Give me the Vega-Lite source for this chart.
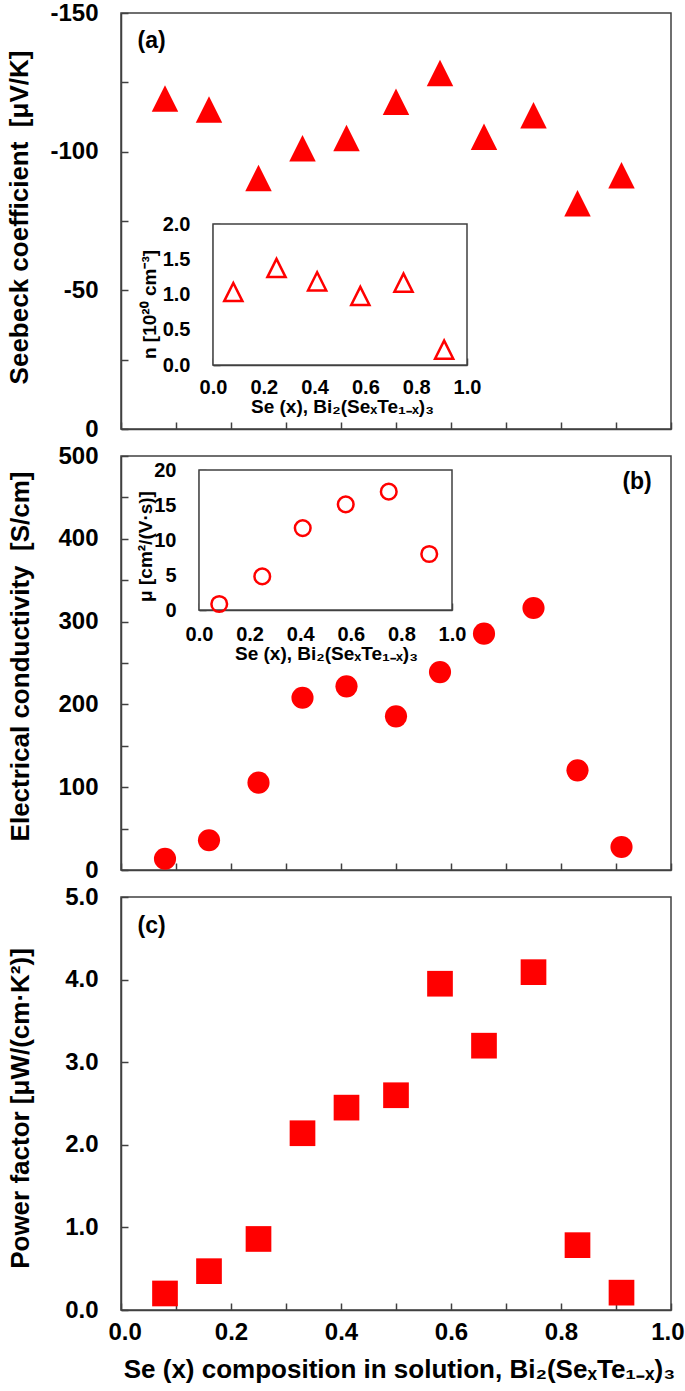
{
  "$schema": "https://vega.github.io/schema/vega-lite/v6.json",
  "background": "white",
  "padding": {"left": 5, "top": 0, "right": 0, "bottom": 0},
  "spacing": 27,
  "bounds": "flush",
  "config": {
    "view": {"stroke": "#404040", "strokeWidth": 1.5},
    "font": "Liberation Sans",
    "axis": {
      "grid": false,
      "domainColor": "#404040",
      "domainWidth": 1.5,
      "tickColor": "#404040",
      "tickWidth": 1.5,
      "labelColor": "black",
      "titleColor": "black",
      "labelFont": "Liberation Sans",
      "titleFont": "Liberation Sans",
      "labelFontWeight": "bold",
      "titleFontWeight": "bold",
      "labelFlush": false,
      "labelOverlap": false,
      "labelBound": false
    }
  },
  "datasets": {
    "main": [
      {"x": 0.08, "S": -119.2, "sigma": 13.6, "PF": 0.20},
      {"x": 0.16, "S": -115.2, "sigma": 35.9, "PF": 0.47},
      {"x": 0.25, "S": -90.5, "sigma": 105.5, "PF": 0.86},
      {"x": 0.33, "S": -101.2, "sigma": 208.0, "PF": 2.14},
      {"x": 0.41, "S": -104.9, "sigma": 221.8, "PF": 2.45},
      {"x": 0.50, "S": -118.0, "sigma": 185.6, "PF": 2.60},
      {"x": 0.58, "S": -128.4, "sigma": 239.0, "PF": 3.95},
      {"x": 0.66, "S": -105.4, "sigma": 285.4, "PF": 3.20},
      {"x": 0.75, "S": -113.1, "sigma": 316.4, "PF": 4.09},
      {"x": 0.83, "S": -81.4, "sigma": 120.4, "PF": 0.785},
      {"x": 0.91, "S": -91.5, "sigma": 27.8, "PF": 0.21}
    ],
    "inset": [
      {"x": 0.08, "n": 1.035, "mu": 0.86},
      {"x": 0.25, "n": 1.376, "mu": 4.8},
      {"x": 0.41, "n": 1.187, "mu": 11.7},
      {"x": 0.58, "n": 0.979, "mu": 15.1},
      {"x": 0.75, "n": 1.167, "mu": 16.9},
      {"x": 0.91, "n": 0.217, "mu": 8.0}
    ]
  },
  "vconcat": [
    {
      "width": 550,
      "height": 416,
      "layer": [
        {
          "layer": [
            {
              "data": {"name": "main"},
              "mark": {"type": "point", "shape": "M0,-1L1,1L-1,1Z", "filled": true, "color": "#FF0000", "opacity": 1, "size": 700},
              "encoding": {
                "x": {"field": "x", "type": "quantitative", "scale": {"domain": [0, 1], "nice": false, "zero": false},
                  "axis": {"orient": "bottom", "values": [0, 0.1, 0.2, 0.3, 0.4, 0.5, 0.6, 0.7, 0.8, 0.9, 1.0], "labels": false, "tickSize": -7, "title": null}},
                "y": {"field": "S", "type": "quantitative", "scale": {"domain": [0, -150], "nice": false, "zero": false},
                  "axis": {"orient": "left", "values": [-150, -125, -100, -75, -50, -25, 0], "labelExpr": "datum.value % 50 == 0 ? (datum.value < 0 ? '-' + format(-datum.value, 'd') : '0') : ''", "tickSize": -7, "labelPadding": 30, "labelFontSize": 24,
                    "title": "Seebeck coefficient\u00a0\u00a0[μV/K]", "titleFontSize": 26, "titleAngle": -90, "titleAlign": "center", "titleBaseline": "alphabetic", "titleX": -94, "titleY": 204}}
              }
            },
            {
              "data": {"values": [{}]},
              "mark": {"type": "text", "text": "(a)", "font": "Liberation Sans", "fontWeight": "bold", "fontSize": 23, "align": "left", "baseline": "middle", "color": "black"},
              "encoding": {
                "x": {"datum": 0.03, "type": "quantitative"},
                "y": {"datum": -140, "type": "quantitative"}
              }
            }
          ]
        },
        {
          "layer": [
            {
              "data": {"values": [{}]},
              "mark": {"type": "rect", "fill": "white", "stroke": "#404040", "strokeWidth": 1.5},
              "encoding": {
                "x": {"datum": 0, "type": "quantitative"},
                "x2": {"datum": 1},
                "y": {"datum": 0, "type": "quantitative"},
                "y2": {"datum": 2}
              }
            },
            {
              "data": {"name": "inset"},
              "mark": {"type": "point", "shape": "M0,-1L1,1L-1,1Z", "filled": false, "stroke": "#FF0000", "strokeWidth": 2.5, "opacity": 1, "size": 330},
              "encoding": {
                "x": {"field": "x", "type": "quantitative", "scale": {"domain": [0, 1], "range": [92, 346], "nice": false, "zero": false},
                  "axis": {"orient": "bottom", "offset": -64, "values": [0, 0.1, 0.2, 0.3, 0.4, 0.5, 0.6, 0.7, 0.8, 0.9, 1.0], "format": ".1f", "labelExpr": "round(datum.value * 10) % 2 == 0 ? datum.label : ''", "tickSize": -7, "labelPadding": 19, "labelFontSize": 20,
                    "title": "Se (x), Bi₂(SeₓTe₁₋ₓ)₃", "titleFontSize": 19, "titleAlign": "center", "titleBaseline": "alphabetic", "titleX": 221, "titleY": 47}},
                "y": {"field": "n", "type": "quantitative", "scale": {"domain": [0, 2], "range": [352, 211], "nice": false, "zero": false},
                  "axis": {"orient": "left", "offset": -92, "values": [0, 0.5, 1, 1.5, 2], "format": ".1f", "tickSize": -7, "labelPadding": 30, "labelFontSize": 20,
                    "title": "n [10²⁰ cm⁻³]", "titleFontSize": 19, "titleAngle": -90, "titleAlign": "center", "titleBaseline": "alphabetic", "titleX": -58, "titleY": 291}}
              }
            }
          ]
        }
      ],
      "resolve": {"scale": {"x": "independent", "y": "independent"}, "axis": {"x": "independent", "y": "independent"}}
    },
    {
      "width": 550,
      "height": 414,
      "layer": [
        {
          "layer": [
            {
              "data": {"name": "main"},
              "mark": {"type": "point", "shape": "circle", "filled": true, "color": "#FF0000", "opacity": 1, "size": 490},
              "encoding": {
                "x": {"field": "x", "type": "quantitative", "scale": {"domain": [0, 1], "nice": false, "zero": false},
                  "axis": {"orient": "bottom", "values": [0, 0.1, 0.2, 0.3, 0.4, 0.5, 0.6, 0.7, 0.8, 0.9, 1.0], "labels": false, "tickSize": -7, "title": null}},
                "y": {"field": "sigma", "type": "quantitative", "scale": {"domain": [0, 500], "nice": false, "zero": false},
                  "axis": {"orient": "left", "values": [0, 50, 100, 150, 200, 250, 300, 350, 400, 450, 500], "labelExpr": "datum.value % 100 == 0 ? datum.label : ''", "tickSize": -7, "labelPadding": 30, "labelFontSize": 24,
                    "title": "Electrical conductivity\u00a0\u00a0[S/cm]", "titleFontSize": 26, "titleAngle": -90, "titleAlign": "center", "titleBaseline": "alphabetic", "titleX": -93, "titleY": 200}}
              }
            },
            {
              "data": {"values": [{}]},
              "mark": {"type": "text", "text": "(b)", "font": "Liberation Sans", "fontWeight": "bold", "fontSize": 23, "align": "right", "baseline": "middle", "color": "black"},
              "encoding": {
                "x": {"datum": 0.965, "type": "quantitative"},
                "y": {"datum": 469, "type": "quantitative"}
              }
            }
          ]
        },
        {
          "layer": [
            {
              "data": {"values": [{}]},
              "mark": {"type": "rect", "fill": "white", "stroke": "#404040", "strokeWidth": 1.5},
              "encoding": {
                "x": {"datum": 0, "type": "quantitative"},
                "x2": {"datum": 1},
                "y": {"datum": 0, "type": "quantitative"},
                "y2": {"datum": 20}
              }
            },
            {
              "data": {"name": "inset"},
              "mark": {"type": "point", "shape": "circle", "filled": false, "stroke": "#FF0000", "strokeWidth": 2.5, "opacity": 1, "size": 245},
              "encoding": {
                "x": {"field": "x", "type": "quantitative", "scale": {"domain": [0, 1], "range": [78, 331], "nice": false, "zero": false},
                  "axis": {"orient": "bottom", "offset": -260, "values": [0, 0.1, 0.2, 0.3, 0.4, 0.5, 0.6, 0.7, 0.8, 0.9, 1.0], "format": ".1f", "labelExpr": "round(datum.value * 10) % 2 == 0 ? datum.label : ''", "tickSize": -7, "labelPadding": 21, "labelFontSize": 20,
                    "title": "Se (x), Bi₂(SeₓTe₁₋ₓ)₃", "titleFontSize": 19, "titleAlign": "center", "titleBaseline": "alphabetic", "titleX": 205, "titleY": 49}},
                "y": {"field": "mu", "type": "quantitative", "scale": {"domain": [0, 20], "range": [154, 14], "nice": false, "zero": false},
                  "axis": {"orient": "left", "offset": -78, "values": [0, 5, 10, 15, 20], "format": "d", "tickSize": -7, "labelPadding": 30, "labelFontSize": 20,
                    "title": "μ [cm²/(V·s)]", "titleFontSize": 19, "titleAngle": -90, "titleAlign": "center", "titleBaseline": "alphabetic", "titleX": -48, "titleY": 90}}
              }
            }
          ]
        }
      ],
      "resolve": {"scale": {"x": "independent", "y": "independent"}, "axis": {"x": "independent", "y": "independent"}}
    },
    {
      "width": 550,
      "height": 413,
      "layer": [
        {
          "data": {"name": "main"},
          "mark": {"type": "point", "shape": "square", "filled": true, "color": "#FF0000", "opacity": 1, "size": 660},
          "encoding": {
            "x": {"field": "x", "type": "quantitative", "scale": {"domain": [0, 1], "nice": false, "zero": false},
              "axis": {"orient": "bottom", "values": [0, 0.1, 0.2, 0.3, 0.4, 0.5, 0.6, 0.7, 0.8, 0.9, 1.0], "format": ".1f", "labelExpr": "round(datum.value * 10) % 2 == 0 ? datum.label : ''", "tickSize": -7, "labelPadding": 17, "labelFontSize": 24, "labelFlush": true, "labelFlushOffset": 13,
                "title": "Se (x) composition in solution, Bi₂(SeₓTe₁₋ₓ)₃", "titleFontSize": 26, "titleAlign": "center", "titleBaseline": "alphabetic", "titleX": 278, "titleY": 67}},
            "y": {"field": "PF", "type": "quantitative", "scale": {"domain": [0, 5], "nice": false, "zero": false},
              "axis": {"orient": "left", "values": [0, 1, 2, 3, 4, 5], "format": ".1f", "tickSize": -7, "labelPadding": 30, "labelFontSize": 24,
                "title": "Power factor [μW/(cm·K²)]", "titleFontSize": 26, "titleAngle": -90, "titleAlign": "center", "titleBaseline": "alphabetic", "titleX": -93, "titleY": 211}}
          }
        },
        {
          "data": {"values": [{}]},
          "mark": {"type": "text", "text": "(c)", "font": "Liberation Sans", "fontWeight": "bold", "fontSize": 23, "align": "left", "baseline": "middle", "color": "black"},
          "encoding": {
            "x": {"datum": 0.03, "type": "quantitative"},
            "y": {"datum": 4.65, "type": "quantitative"}
          }
        }
      ]
    }
  ]
}
